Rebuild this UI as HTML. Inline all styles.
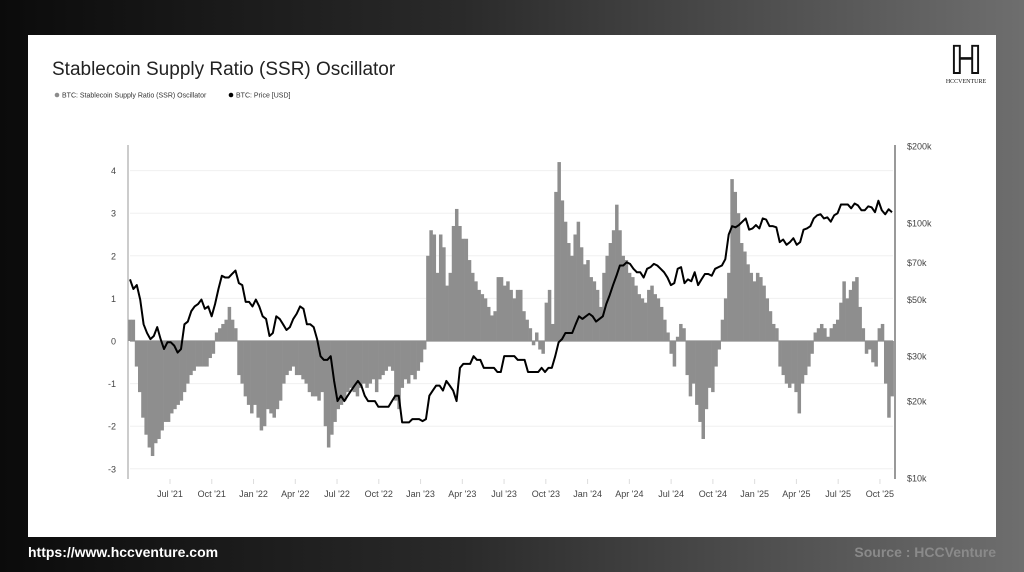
<!DOCTYPE html>
<html><head><meta charset="utf-8"><style>
html,body{margin:0;padding:0;width:1024px;height:572px;overflow:hidden;background:linear-gradient(90deg,#0b0b0b 0%,#2a2a2a 45%,#6e6e6e 100%);font-family:"Liberation Sans",sans-serif}
#card{position:absolute;left:28px;top:35px;width:968px;height:502px;background:#fff}
.foot{position:absolute;top:544px;font-size:14px;font-weight:bold}
</style></head><body>
<div id="card"></div>
<svg id="svg" width="1024" height="572" style="position:absolute;left:0;top:0">
<text x="52" y="75" font-size="19" fill="#222" font-family="Liberation Sans">Stablecoin Supply Ratio (SSR) Oscillator</text>
<g font-size="7" fill="#333">
<circle cx="57" cy="95" r="2.3" fill="#8c8c8c"/>
<text x="62" y="97.5">BTC: Stablecoin Supply Ratio (SSR) Oscillator</text>
<circle cx="231" cy="95" r="2.3" fill="#000"/>
<text x="236" y="97.5">BTC: Price [USD]</text>
</g>
<g>
<text x="966" y="74" font-size="40" font-family="Liberation Serif" text-anchor="middle" fill="#111">ℍ</text>
<text x="966" y="83" font-size="6" font-family="Liberation Serif" text-anchor="middle" fill="#111">HCCVENTURE</text>
</g>
<g id="grid"></g><g id="bars"></g><g id="line"></g><g id="axes"></g>
</svg>
<div class="foot" style="left:28px;color:#fff">https://www.hccventure.com</div>
<div class="foot" style="right:28px;color:#8a8a8a">Source : HCCVenture</div>
<script>
const ssrValues=[0.5,0.5,-0.6,-1.2,-1.8,-2.2,-2.5,-2.7,-2.4,-2.3,-2.1,-1.9,-1.9,-1.7,-1.6,-1.5,-1.4,-1.2,-1.0,-0.8,-0.7,-0.6,-0.6,-0.6,-0.6,-0.4,-0.3,0.2,0.3,0.4,0.5,0.8,0.5,0.3,-0.8,-1.0,-1.3,-1.5,-1.7,-1.5,-1.8,-2.1,-2.0,-1.6,-1.7,-1.8,-1.6,-1.4,-1.0,-0.8,-0.7,-0.6,-0.8,-0.8,-0.9,-1.0,-1.2,-1.3,-1.3,-1.4,-1.2,-2.0,-2.5,-2.2,-1.9,-1.6,-1.5,-1.4,-1.2,-1.1,-1.2,-1.3,-1.1,-1.0,-1.1,-1.0,-0.9,-1.2,-0.9,-0.8,-0.7,-0.6,-0.7,-1.4,-1.6,-1.1,-0.9,-1.0,-0.8,-0.9,-0.7,-0.5,-0.2,2.0,2.6,2.5,1.6,2.5,2.2,1.3,1.6,2.7,3.1,2.7,2.4,2.4,1.9,1.6,1.4,1.2,1.1,1.0,0.8,0.6,0.7,1.5,1.5,1.3,1.4,1.2,1.0,1.2,1.2,0.7,0.5,0.3,-0.1,0.2,-0.2,-0.3,0.9,1.2,0.4,3.5,4.2,3.3,2.8,2.3,2.0,2.5,2.8,2.2,1.8,1.9,1.5,1.4,1.2,0.8,1.6,2.0,2.3,2.6,3.2,2.6,2.0,1.9,1.6,1.5,1.3,1.1,1.0,0.9,1.2,1.3,1.1,1.0,0.8,0.5,0.2,-0.3,-0.6,0.1,0.4,0.3,-0.8,-1.3,-1.0,-1.5,-1.9,-2.3,-1.6,-1.1,-1.2,-0.6,-0.2,0.5,1.0,1.6,3.8,3.5,3.0,2.3,2.1,1.8,1.6,1.4,1.6,1.5,1.3,1.0,0.7,0.4,0.3,-0.6,-0.8,-1.0,-1.1,-1.0,-1.2,-1.7,-1.0,-0.8,-0.6,-0.3,0.2,0.3,0.4,0.3,0.1,0.3,0.4,0.5,0.9,1.4,1.0,1.2,1.4,1.5,0.8,0.3,-0.3,-0.2,-0.5,-0.6,0.3,0.4,-1.0,-1.8,-1.3];
const priceK=[60,55,57,50,40,37,35,36,39,35,32,34,34,33,31,32,40,41,45,47,48,50,46,47,43,48,55,62,61,61,63,65,58,57,49,49,47,50,47,43,42,36,37,43,42,40,38,39,42,44,47,46,40,40,39,35,30,29,29,30,24,20,21,20,21,22,23,24,23,21,20,20,20,19,19,19,19,20,21,21,16.5,16.5,16.5,17,17,17,16.7,17,21,22,23,23,22,24,23,22,20,27,28,28,28,30,29,29,27,27,27,27,26,26,30,30,30,30,29,29,29,26,26,26,26,27,26,27,27,30,34,35,37,37,37,40,43,42,43,44,43,41,42,43,48,52,57,62,68,68,70,69,66,64,64,61,66,67,69,68,66,64,61,57,58,66,67,58,60,59,64,57,60,63,63,62,66,67,68,72,90,97,96,98,101,104,94,95,98,95,104,103,97,97,96,84,86,82,84,87,82,84,94,95,97,104,107,108,104,105,101,107,109,118,118,118,114,119,117,112,112,116,115,110,122,112,108,113,110];
const leftTicks=[4,3,2,1,0,-1,-2,-3];
const rightTicks=[200,100,70,50,30,20,10];
const xLabels=["Jul '21","Oct '21","Jan '22","Apr '22","Jul '22","Oct '22","Jan '23","Apr '23","Jul '23","Oct '23","Jan '24","Apr '24","Jul '24","Oct '24","Jan '25","Apr '25","Jul '25","Oct '25"];
const NS="http://www.w3.org/2000/svg";
const X0=130,X1=892,Y0=341,UNIT=42.6;
const xs=i=>X0+i*(X1-X0)/(ssrValues.length-1);
const xp=i=>X0+i*(X1-X0)/(priceK.length-1);
const yl=v=>Y0-v*UNIT;
const yr=p=>146+(Math.log10(200)-Math.log10(p))*255.1;
const xq=k=>170+k*41.76;
function mk(t,a,p){const e=document.createElementNS(NS,t);for(const k in a)e.setAttribute(k,a[k]);document.getElementById(p).appendChild(e);return e;}
leftTicks.forEach(v=>{
 const g=mk('line',{x1:130,x2:893,y1:yl(v),y2:yl(v),stroke:'#f0f0f0','stroke-width':1},'grid');
 
 
 const t=mk('text',{x:116,y:yl(v)+3.5,'font-size':9,fill:'#444','text-anchor':'end'},'axes');
 t.textContent=v;
 
 
});
rightTicks.forEach(p=>{
 const t=mk('text',{x:907,y:yr(p)+3.5,'font-size':9,fill:'#444'},'axes');
 t.textContent='$'+p+'k';
 
 
});
xLabels.forEach((l,k)=>{
 const t=mk('text',{x:xq(k),y:497,'font-size':9,fill:'#444','text-anchor':'middle'},'axes');
 t.textContent=l;
 
 
 const tk=mk('line',{x1:xq(k),x2:xq(k),y1:479,y2:484,stroke:'#ddd'},'axes');
 
 
});
const w=(X1-X0)/(ssrValues.length-1);
ssrValues.forEach((v,i)=>{
 const y=Math.min(yl(v),Y0),h=Math.abs(yl(v)-Y0);
 const b=mk('rect',{x:xs(i)-w/2,y:y,width:w+0.3,height:Math.max(h,0.5),fill:'#8e8e8e'},'bars');
 
 
});
const z=mk('line',{x1:130,x2:893,y1:Y0,y2:Y0,stroke:'#8e8e8e','stroke-width':1.2},'bars');


const pl=mk('polyline',{points:priceK.map((p,i)=>xp(i)+','+yr(p)).join(' '),fill:'none',stroke:'#000','stroke-width':2,'stroke-linejoin':'round'},'line');


const la=mk('line',{x1:128,x2:128,y1:145,y2:479,stroke:'#999','stroke-width':1},'axes');


const ra=mk('line',{x1:895,x2:895,y1:145,y2:479,stroke:'#333','stroke-width':1},'axes');


</script>
</body></html>
